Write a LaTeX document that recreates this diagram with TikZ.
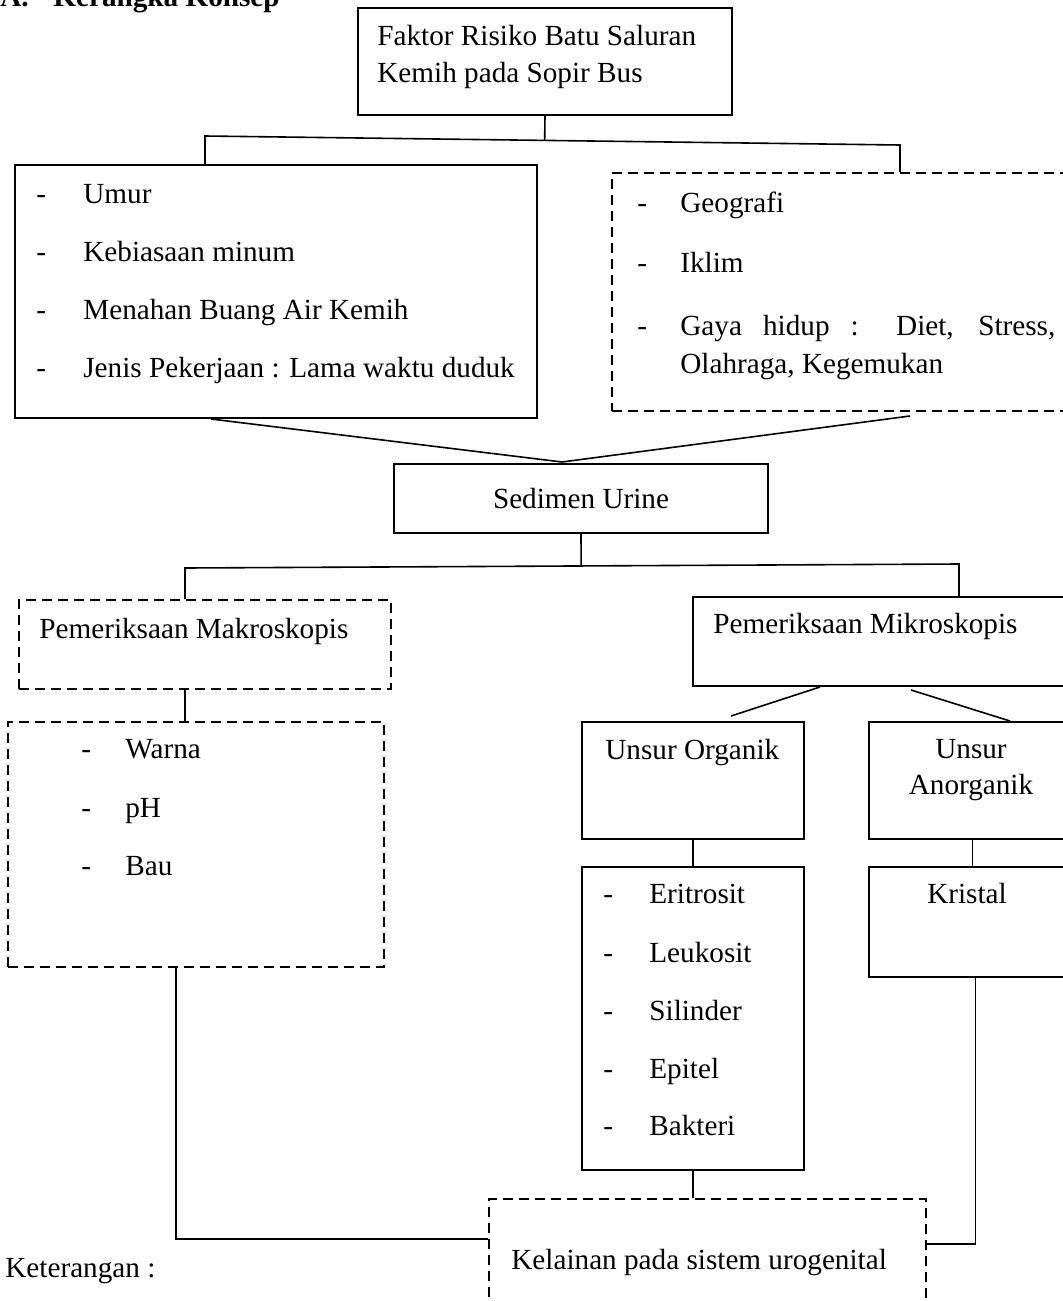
\documentclass[tikz,border=0pt]{standalone}
\usepackage{fontspec}
\setmainfont{Liberation Serif}
\usetikzlibrary{calc}

\newcommand{\ukuran}{\fontsize{14.6pt}{17pt}\selectfont}

\tikzset{
    kotak/.style={draw, line width=1pt, anchor=north west, inner sep=0pt},
    kotakputus/.style={kotak, dash pattern=on 5pt off 3pt},
    teks/.style={anchor=base west, inner sep=0pt, font=\ukuran},
    teksc/.style={anchor=base, inner sep=0pt, font=\ukuran},
    garis/.style={line width=0.8pt}
}

\begin{document}
\begin{tikzpicture}[x=0.5pt, y=-0.5pt]
        \useasboundingbox (0,0) rectangle (1062,1301);

        % judul
        \node[teks] (judul) at (0,6) {\textbf{\makebox[26.5pt][l]{A.}Kerangka Konsep}};

        % kotak-kotak
        \node[kotak, minimum width=187pt, minimum height=53.5pt] (atas) at (357,7) {};
        \node[kotak, minimum width=261pt, minimum height=126.5pt] (faktorA) at (14,164) {};
        \node[kotakputus, minimum width=235pt, minimum height=119pt] (faktorB) at (611,172) {};
        \node[kotak, minimum width=187pt, minimum height=34.5pt, font=\ukuran] (sedimen) at (393,463) {Sedimen Urine};
        \node[kotakputus, minimum width=186pt, minimum height=44.5pt] (makro) at (18,599) {};
        \node[kotak, minimum width=195pt, minimum height=44.5pt] (mikro) at (692,596) {};
        \node[kotak, minimum width=111pt, minimum height=58.5pt] (organik) at (581,721) {};
        \node[kotak, minimum width=103.5pt, minimum height=58.5pt] (anorganik) at (868,721) {};
        \node[kotakputus, minimum width=188pt, minimum height=122.5pt] (warna) at (7,721) {};
        \node[kotak, minimum width=111pt, minimum height=151.5pt] (daftar) at (581,866) {};
        \node[kotak, minimum width=103.5pt, minimum height=55pt] (kristal) at (868,866) {};
        \node[kotakputus, minimum width=218.5pt, minimum height=55pt] (kelainan) at (488,1198) {};

        % isi kotak
        \node[teks] (atas1) at (377,46) {Faktor Risiko Batu Saluran};
        \node[teks] (atas2) at (377,82) {Kemih pada Sopir Bus};

        \node[teks] (fa1) at (36,203) {\makebox[23.5pt][l]{-}Umur};
        \node[teks] (fa2) at (36,261) {\makebox[23.5pt][l]{-}Kebiasaan minum};
        \node[teks] (fa3) at (36,319) {\makebox[23.5pt][l]{-}Menahan Buang Air Kemih};
        \node[teks] (fa4) at (36,377) {\makebox[23.5pt][l]{-}Jenis Pekerjaan : Lama waktu duduk};

        \node[teks] (fb1) at (637,212) {\makebox[21.5pt][l]{-}Geografi};
        \node[teks] (fb2) at (637,272) {\makebox[21.5pt][l]{-}Iklim};
        \node[teks] (fb3) at (637,335) {\makebox[21.5pt][l]{-}\makebox[187.5pt][s]{Gaya hidup : Diet, Stress,}};
        \node[teks] (fb4) at (680,373) {Olahraga, Kegemukan};

        \node[teks] (makro1) at (39,638) {Pemeriksaan Makroskopis};
        \node[teks] (mikro1) at (713,633) {Pemeriksaan Mikroskopis};
        \node[teks] (organik1) at (605,759) {Unsur Organik};
        \node[teksc] (anorganik1) at (971,758) {Unsur};
        \node[teksc] (anorganik2) at (971,794) {Anorganik};

        \node[teks] (w1) at (81,758) {\makebox[22pt][l]{-}Warna};
        \node[teks] (w2) at (81,817) {\makebox[22pt][l]{-}pH};
        \node[teks] (w3) at (81,875) {\makebox[22pt][l]{-}Bau};

        \node[teks] (d1) at (603,903) {\makebox[23pt][l]{-}Eritrosit};
        \node[teks] (d2) at (603,962) {\makebox[23pt][l]{-}Leukosit};
        \node[teks] (d3) at (603,1020) {\makebox[23pt][l]{-}Silinder};
        \node[teks] (d4) at (603,1078) {\makebox[23pt][l]{-}Epitel};
        \node[teks] (d5) at (603,1135) {\makebox[23pt][l]{-}Bakteri};

        \node[teksc] (kristal1) at (967,903) {Kristal};
        \node[teks] (kelainan1) at (511,1269) {Kelainan pada sistem urogenital};
        \node[teks] (ket) at (5,1277) {Keterangan :};

        % garis penghubung
        \coordinate (cabangA1) at (205,136);
        \coordinate (cabangA2) at (900,145);
        \coordinate (cabangB1) at (185,568);
        \coordinate (cabangB2) at (959,564);
        \coordinate (temu) at (562,462);

        \draw[garis] (atas.south) -- ($(cabangA1)!(atas.south)!(cabangA2)$);
        \draw[garis] (faktorA.north -| cabangA1) -- (cabangA1) -- (cabangA2) -- (cabangA2 |- faktorB.north);
        \draw[garis] ($(faktorA.south west)+(197,0)$) -- (temu) -- ($(faktorB.south west)+(299,4)$);
        \draw[garis] (sedimen.south) -- ($(cabangB1)!(sedimen.south)!(cabangB2)$);
        \draw[garis] (makro.north -| cabangB1) -- (cabangB1) -- (cabangB2) -- (cabangB2 |- mikro.north);
        \draw[garis] (makro.south -| cabangB1) -- (warna.north -| cabangB1);
        \draw[garis] ($(mikro.south west)+(128,0)$) -- ($(organik.north west)+(150,-5)$);
        \draw[garis] ($(mikro.south west)+(219,3)$) -- ($(anorganik.north west)+(142,0)$);
        \draw[garis] (organik.south) -- (daftar.north);
        \draw[garis] (anorganik.south) -- (kristal.north);
        \draw[garis] (daftar.south) -- (daftar.south |- kelainan.north);
        \draw[garis] ($(kristal.south)+(3,0)$) |- ($(kelainan.north east)+(0,46)$);
        \draw[garis] ($(warna.south)+(-20,0)$) |- ($(kelainan.north west)+(0,41)$);

\end{tikzpicture}
\end{document}
